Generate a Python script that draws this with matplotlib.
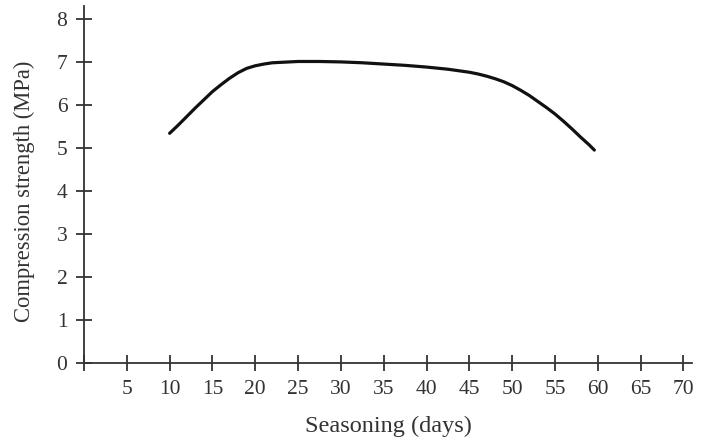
import matplotlib
matplotlib.use('Agg')
import matplotlib.pyplot as plt

plt.rcParams['font.family'] = 'Liberation Serif'

# Compression strength vs seasoning time
days = [10, 11, 12, 13, 14, 15, 16, 17, 18, 19, 20, 21, 22, 23, 24, 25,
        27.5, 30, 32.5, 35, 37.5, 40, 42.5, 45, 46, 47, 48, 49, 50,
        51, 52, 53, 54, 55, 56, 57, 58, 59, 59.6]
strength = [5.34, 5.53, 5.73, 5.93, 6.12, 6.31, 6.47, 6.62, 6.75, 6.85, 6.91, 6.95,
            6.98, 6.99, 7.0, 7.01, 7.01, 7.0, 6.98, 6.95, 6.92, 6.88, 6.83, 6.76,
            6.72, 6.67, 6.61, 6.54, 6.45, 6.34, 6.22, 6.08, 5.94, 5.79, 5.62,
            5.44, 5.25, 5.07, 4.95]

x_ticks = [0, 5, 10, 15, 20, 25, 30, 35, 40, 45, 50, 55, 60, 65, 70]
x_labels = [''] + [str(t) for t in x_ticks[1:]]
y_ticks = [0, 1, 2, 3, 4, 5, 6, 7, 8]

fig = plt.figure(figsize=(7.1, 4.41), dpi=100)
ax = fig.add_axes([0.1183, 0.1769, 0.8563, 0.8095])

ax.plot(days, strength, color='#111111', linewidth=2.3,
        solid_capstyle='round', solid_joinstyle='round')

ax.set_xlim(0, 71)
ax.set_ylim(0, 8.3)
ax.set_xticks(x_ticks)
ax.set_xticklabels(x_labels)
ax.set_yticks(y_ticks)

for side in ['top', 'right']:
    ax.spines[side].set_visible(False)
for side in ['left', 'bottom']:
    ax.spines[side].set_linewidth(1.3)
    ax.spines[side].set_color('#333333')

ax.tick_params(direction='inout', length=12, width=1.3, color='#333333',
               labelsize=15.5, labelcolor='#333333')
ax.tick_params(axis='x', pad=6)
ax.tick_params(axis='y', pad=6)

ax.set_xlabel('Seasoning (days)', fontsize=17.5, color='#333333', labelpad=12)
ax.set_ylabel('Compression strength (MPa)', fontsize=16.3, color='#333333')
ax.yaxis.set_label_coords(-0.080, 0.482)

fig.savefig('out.png', dpi=100)
